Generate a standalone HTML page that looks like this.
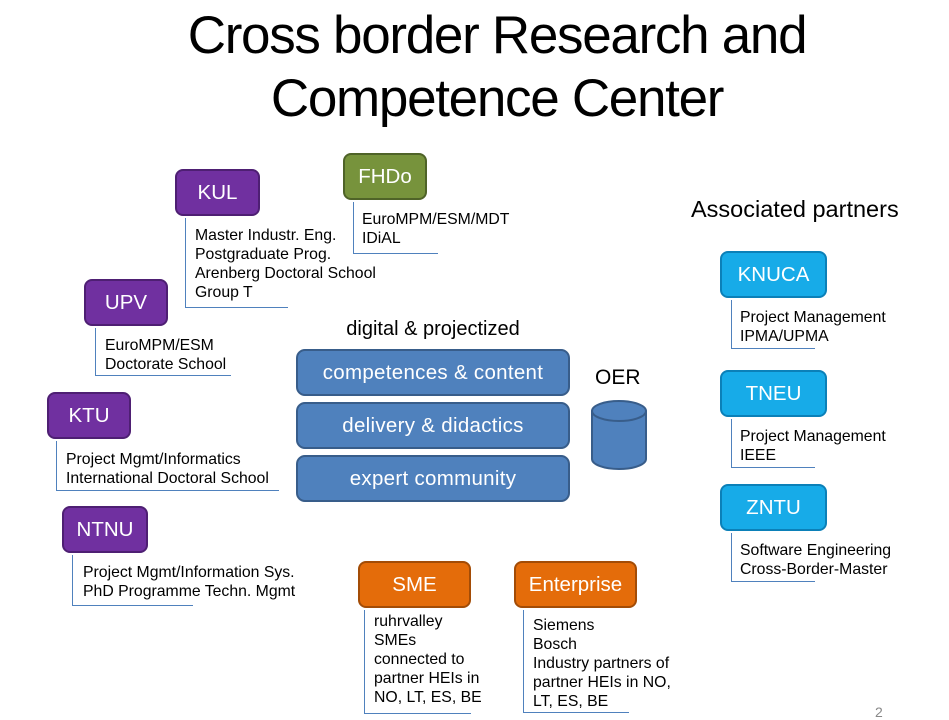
<!DOCTYPE html>
<html><head><meta charset="utf-8"><style>
body{margin:0;width:949px;height:720px;background:#fff;position:relative;overflow:hidden;font-family:"Liberation Sans",sans-serif;}
.a{position:absolute;white-space:nowrap;}
.t{position:absolute;left:0;width:994px;text-align:center;font-size:53px;letter-spacing:-1.3px;color:#000;line-height:60px;}
.b{position:absolute;box-sizing:border-box;border-radius:8px;border:2px solid;color:#fff;font-size:20.5px;display:flex;align-items:center;justify-content:center;}
.p{background:#7030a0;border-color:#4e1f73;}
.g{background:#77933c;border-color:#4f6328;}
.c{background:#17abe8;border-color:#0b80b8;}
.o{background:#e46c0a;border-color:#a34c06;}
.bl{background:#4f81bd;border-color:#385d8a;border-radius:9px;font-size:20.5px;letter-spacing:0.3px;}
.l{position:absolute;border-left:1px solid #4f81bd;border-bottom:1px solid #4f81bd;}
.tx{position:absolute;font-size:15.8px;line-height:19px;color:#000;white-space:nowrap;}
</style></head><body>
<div class="t" style="top:6px">Cross border Research and</div>
<div class="t" style="top:69px">Competence Center</div>

<div class="b g" style="left:343px;top:153px;width:84px;height:47px">FHDo</div>
<div class="l" style="left:353px;top:202px;width:84px;height:51px"></div>
<div class="tx" style="left:362px;top:210px">EuroMPM/ESM/MDT<br>IDiAL</div>

<div class="b p" style="left:175px;top:169px;width:85px;height:47px">KUL</div>
<div class="l" style="left:185px;top:218px;width:102px;height:89px"></div>
<div class="tx" style="left:195px;top:226px">Master Industr. Eng.<br>Postgraduate Prog.<br>Arenberg Doctoral School<br>Group T</div>

<div class="b p" style="left:84px;top:279px;width:84px;height:47px">UPV</div>
<div class="l" style="left:95px;top:328px;width:135px;height:47px"></div>
<div class="tx" style="left:105px;top:336px">EuroMPM/ESM<br>Doctorate School</div>

<div class="b p" style="left:47px;top:392px;width:84px;height:47px">KTU</div>
<div class="l" style="left:56px;top:441px;width:222px;height:49px"></div>
<div class="tx" style="left:66px;top:450px">Project Mgmt/Informatics<br>International Doctoral School</div>

<div class="b p" style="left:62px;top:506px;width:86px;height:47px">NTNU</div>
<div class="l" style="left:72px;top:555px;width:120px;height:50px"></div>
<div class="tx" style="left:83px;top:563px">Project Mgmt/Information Sys.<br>PhD Programme Techn. Mgmt</div>

<div class="a" style="left:296px;top:318px;width:274px;text-align:center;font-size:20px">digital &amp; projectized</div>
<div class="b bl" style="left:296px;top:349px;width:274px;height:47px">competences &amp; content</div>
<div class="b bl" style="left:296px;top:402px;width:274px;height:47px">delivery &amp; didactics</div>
<div class="b bl" style="left:296px;top:455px;width:274px;height:47px">expert community</div>

<div class="a" style="left:595px;top:366px;font-size:21px">OER</div>
<svg class="a" style="left:589px;top:399px" width="60" height="74">
<path d="M3,12 L3,60 A27,10 0 0 0 57,60 L57,12" fill="#4f81bd" stroke="#385d8a" stroke-width="2"/>
<ellipse cx="30" cy="12" rx="27" ry="10" fill="#4f81bd" stroke="#385d8a" stroke-width="2"/>
</svg>

<div class="a" style="left:691px;top:196px;font-size:23.5px">Associated partners</div>

<div class="b c" style="left:720px;top:251px;width:107px;height:47px">KNUCA</div>
<div class="l" style="left:731px;top:300px;width:83px;height:48px"></div>
<div class="tx" style="left:740px;top:308px">Project Management<br>IPMA/UPMA</div>

<div class="b c" style="left:720px;top:370px;width:107px;height:47px">TNEU</div>
<div class="l" style="left:731px;top:419px;width:83px;height:48px"></div>
<div class="tx" style="left:740px;top:427px">Project Management<br>IEEE</div>

<div class="b c" style="left:720px;top:484px;width:107px;height:47px">ZNTU</div>
<div class="l" style="left:731px;top:533px;width:83px;height:48px"></div>
<div class="tx" style="left:740px;top:541px">Software Engineering<br>Cross-Border-Master</div>

<div class="b o" style="left:358px;top:561px;width:113px;height:47px">SME</div>
<div class="l" style="left:364px;top:610px;width:106px;height:103px"></div>
<div class="tx" style="left:374px;top:612px">ruhrvalley<br>SMEs<br>connected to<br>partner HEIs in<br>NO, LT, ES, BE</div>

<div class="b o" style="left:514px;top:561px;width:123px;height:47px">Enterprise</div>
<div class="l" style="left:523px;top:610px;width:105px;height:102px"></div>
<div class="tx" style="left:533px;top:616px">Siemens<br>Bosch<br>Industry partners of<br>partner HEIs in NO,<br>LT, ES, BE</div>

<div class="a" style="left:875px;top:704px;font-size:14px;color:#888">2</div>
</body></html>
